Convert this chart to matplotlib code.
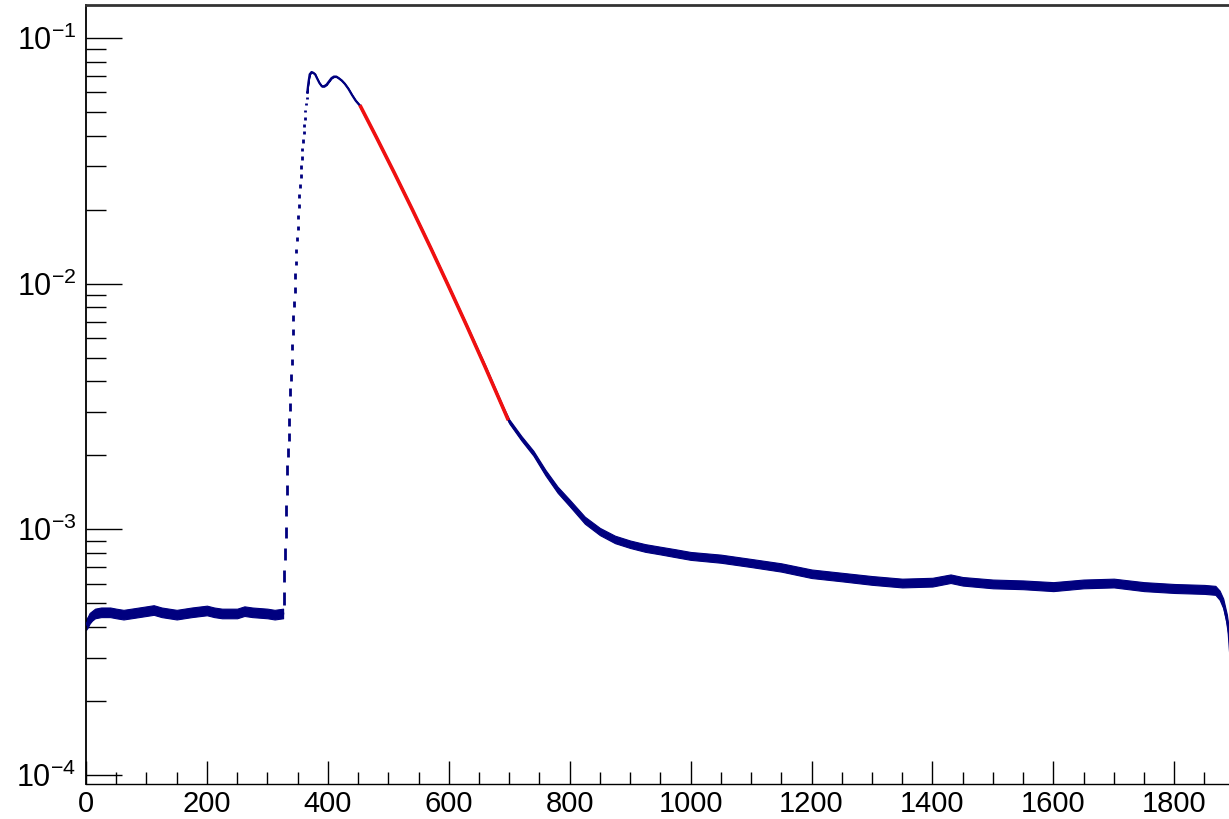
import matplotlib
matplotlib.use("Agg")
import matplotlib.pyplot as plt
import numpy as np
from matplotlib.ticker import LogLocator, LogFormatterMathtext, MultipleLocator, NullFormatter

plt.rcParams['font.family'] = ['Liberation Sans', 'DejaVu Sans']
plt.rcParams['mathtext.default'] = 'regular'

# --- histogram contents -------------------------------------------------
# flat pedestal before the pulse
base_x = [0, 3, 6, 10, 15, 25, 40, 50, 62, 75, 100, 112, 125, 150, 175, 200, 212, 225, 250,
          262, 275, 300, 312, 326]
base_y = [4.1e-4, 4.2e-4, 4.35e-4, 4.45e-4, 4.55e-4, 4.6e-4, 4.6e-4, 4.55e-4, 4.5e-4,
          4.55e-4, 4.65e-4, 4.7e-4, 4.6e-4, 4.5e-4, 4.6e-4, 4.68e-4, 4.6e-4, 4.55e-4, 4.55e-4,
          4.65e-4, 4.6e-4, 4.55e-4, 4.5e-4, 4.55e-4]
base_err = [0.05, 0.05, 0.05, 0.045, 0.045, 0.045, 0.045, 0.045, 0.045, 0.045, 0.045,
            0.045, 0.045, 0.045, 0.045, 0.045, 0.045, 0.045, 0.045, 0.045, 0.045, 0.045,
            0.045, 0.045]

# leading edge, one bin per channel
rise_x = list(range(327, 367))
rise_y = [5.25e-4, 6.46e-4, 7.93e-4, 9.75e-4, 1.198e-3, 1.445e-3, 1.742e-3, 2.063e-3,
          2.374e-3, 2.732e-3, 3.144e-3, 3.618e-3, 4.164e-3, 4.792e-3, 5.515e-3, 6.35e-3,
          7.24e-3, 8.25e-3, 9.41e-3, 1.073e-2, 1.212e-2, 1.356e-2, 1.517e-2, 1.682e-2,
          1.865e-2, 2.067e-2, 2.27e-2, 2.49e-2, 2.74e-2, 2.98e-2, 3.24e-2, 3.52e-2,
          3.80e-2, 4.10e-2, 4.41e-2, 4.71e-2, 5.03e-2, 5.37e-2, 5.68e-2, 6.01e-2]
rise_err = [0.06, 0.058, 0.055, 0.052, 0.05, 0.047, 0.045, 0.042, 0.04, 0.038,
            0.036, 0.034, 0.032, 0.03, 0.029, 0.028, 0.027, 0.026, 0.025, 0.024,
            0.023, 0.022, 0.021, 0.02, 0.019, 0.018, 0.018, 0.017, 0.017, 0.016,
            0.016, 0.015, 0.015, 0.014, 0.014, 0.013, 0.013, 0.012, 0.012, 0.012]

# peak, decay and long tail
tail_x = [366, 368, 370, 373, 376, 379, 382, 386, 390, 394, 398, 402, 406, 410, 414, 418,
          423, 428, 434, 440, 446, 453, 480, 510, 540, 570, 600, 630, 660, 690, 700,
          720, 740, 760, 780, 800, 825, 850, 875, 900, 925, 950, 975, 1000, 1050, 1100,
          1150, 1200, 1250, 1300, 1350, 1400, 1430, 1450, 1500, 1550, 1600, 1650, 1700,
          1750, 1800, 1850, 1868, 1875, 1881, 1887, 1890, 1893]
tail_y = [6.0e-2, 6.6e-2, 7.1e-2, 7.25e-2, 7.2e-2, 7.1e-2, 6.85e-2, 6.55e-2, 6.35e-2,
          6.35e-2, 6.45e-2, 6.65e-2, 6.85e-2, 6.95e-2, 6.95e-2, 6.85e-2, 6.7e-2, 6.5e-2,
          6.2e-2, 5.85e-2, 5.55e-2, 5.3e-2, 3.95e-2, 2.82e-2, 1.99e-2, 1.40e-2, 9.7e-3,
          6.7e-3, 4.6e-3, 3.1e-3, 2.75e-3, 2.35e-3, 2.04e-3, 1.70e-3, 1.45e-3, 1.28e-3,
          1.09e-3, 9.8e-4, 9.1e-4, 8.7e-4, 8.4e-4, 8.2e-4, 8.0e-4, 7.8e-4, 7.6e-4, 7.3e-4,
          7.0e-4, 6.6e-4, 6.4e-4, 6.2e-4, 6.05e-4, 6.1e-4, 6.3e-4, 6.15e-4, 6.0e-4, 5.95e-4,
          5.85e-4, 6.0e-4, 6.05e-4, 5.85e-4, 5.75e-4, 5.7e-4, 5.65e-4, 5.4e-4, 5.0e-4,
          4.3e-4, 3.8e-4, 3.0e-4]
tail_err = [0.004, 0.004, 0.004, 0.004, 0.004, 0.004, 0.004, 0.004, 0.004, 0.004, 0.004,
            0.004, 0.004, 0.004, 0.004, 0.004, 0.004, 0.004, 0.004, 0.004, 0.005, 0.005,
            0.006, 0.007, 0.008, 0.009, 0.011, 0.013, 0.015, 0.018, 0.019, 0.021, 0.023,
            0.026, 0.029, 0.031, 0.033, 0.034, 0.035, 0.035, 0.036, 0.036, 0.037, 0.037,
            0.038, 0.038, 0.039, 0.04, 0.04, 0.041, 0.041, 0.041, 0.04, 0.04, 0.041, 0.041,
            0.042, 0.041, 0.041, 0.042, 0.042, 0.042, 0.042, 0.043, 0.045, 0.048, 0.05, 0.055]

# exponential fit over the decay
fit_x = [453, 480, 510, 540, 570, 600, 630, 660, 690, 698.5]
fit_y = [5.32e-2, 3.95e-2, 2.818e-2, 1.994e-2, 1.398e-2, 9.72e-3, 6.71e-3, 4.59e-3,
         3.11e-3, 2.78e-3]

navy = '#00007f'
fitred = '#f01010'

fig = plt.figure(figsize=(12.29, 8.19), dpi=100)
ax = fig.add_axes([86 / 1229, 35 / 819, 1146 / 1229, 779 / 819])
ax.set_yscale('log')
ax.set_xlim(0, 1895.5)
ax.set_ylim(9.2e-5, 0.1359)

for xs, ys, es in ((base_x, base_y, base_err), (tail_x, tail_y, tail_err)):
    xs = np.asarray(xs, float)
    ys = np.asarray(ys, float)
    es = np.asarray(es, float)
    ax.fill_between(xs, ys * (1 - es), ys * (1 + es), color=navy, lw=0.8,
                    edgecolor=navy, zorder=2)
    ax.plot(xs, ys, color=navy, lw=1.6, zorder=3)

ry = np.asarray(rise_y)
re = np.asarray(rise_err)
ax.errorbar(rise_x, ry, yerr=ry * re, fmt='none', ecolor=navy, elinewidth=2.0,
            capsize=0, zorder=3)

ax.plot(fit_x, fit_y, color=fitred, lw=2.6, zorder=4, solid_capstyle='butt')

# axis ticks, frame
ax.xaxis.set_major_locator(MultipleLocator(200))
ax.xaxis.set_minor_locator(MultipleLocator(50))
ax.yaxis.set_major_locator(LogLocator(base=10, numticks=10))
ax.yaxis.set_minor_locator(LogLocator(base=10, subs=np.arange(2, 10), numticks=20))
ax.yaxis.set_major_formatter(LogFormatterMathtext())
ax.yaxis.set_minor_formatter(NullFormatter())

ax.tick_params(axis='x', which='major', direction='in', length=16.5, width=1.0,
               labelsize=21, pad=4, top=False)
ax.tick_params(axis='x', which='minor', direction='in', length=9, width=1.0, top=False)
ax.tick_params(axis='y', which='major', direction='in', length=26, width=1.0,
               labelsize=22, pad=7, right=False)
ax.tick_params(axis='y', which='minor', direction='in', length=14.5, width=1.0, right=False)

ax.spines['top'].set_linewidth(2.0)
ax.spines['top'].set_color('#333333')
ax.spines['left'].set_linewidth(1.3)
ax.spines['bottom'].set_linewidth(1.0)
ax.spines['right'].set_visible(False)

fig.savefig('out.png', dpi=100)
